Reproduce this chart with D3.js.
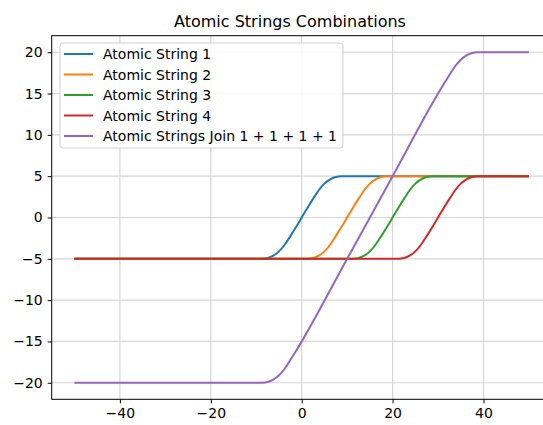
<!DOCTYPE html>
<html>
<head>
<meta charset="utf-8">
<script src="https://cdn.jsdelivr.net/npm/d3@7"></script>
<style>
  body { margin: 0; background: #ffffff; }
  svg { display: block; font-family: "DejaVu Sans", sans-serif; }
</style>
</head>
<body>
<div id="chart"></div>
<script>
// Values
var seriesNames = ["Atomic String 1", "Atomic String 2", "Atomic String 3",
                   "Atomic String 4", "Atomic Strings Join 1 + 1 + 1 + 1"];
var colours = ["#1f77b4", "#ff7f0e", "#2ca02c", "#d62728", "#9467bd"];

var x1 = [-50, -10, -8.75, -7.5, -6.25, -5, -3.75, -2.5, -1.25, 0, 1.25, 2.5, 3.75, 5, 6.25, 7.5, 8.75, 10, 50];
var y1 = [-5, -5, -4.99, -4.9, -4.62, -4.1, -3.3, -2.25, -1.15, 0, 1.15, 2.25, 3.3, 4.1, 4.62, 4.9, 4.99, 5, 5];
var x2 = [-50, 0, 1.25, 2.5, 3.75, 5, 6.25, 7.5, 8.75, 10, 11.25, 12.5, 13.75, 15, 16.25, 17.5, 18.75, 20, 50];
var y2 = [-5, -5, -4.99, -4.9, -4.62, -4.1, -3.3, -2.25, -1.15, 0, 1.15, 2.25, 3.3, 4.1, 4.62, 4.9, 4.99, 5, 5];
var x3 = [-50, 10, 11.25, 12.5, 13.75, 15, 16.25, 17.5, 18.75, 20, 21.25, 22.5, 23.75, 25, 26.25, 27.5, 28.75, 30, 50];
var y3 = [-5, -5, -4.99, -4.9, -4.62, -4.1, -3.3, -2.25, -1.15, 0, 1.15, 2.25, 3.3, 4.1, 4.62, 4.9, 4.99, 5, 5];
var x4 = [-50, 20, 21.25, 22.5, 23.75, 25, 26.25, 27.5, 28.75, 30, 31.25, 32.5, 33.75, 35, 36.25, 37.5, 38.75, 40, 50];
var y4 = [-5, -5, -4.99, -4.9, -4.62, -4.1, -3.3, -2.25, -1.15, 0, 1.15, 2.25, 3.3, 4.1, 4.62, 4.9, 4.99, 5, 5];
var x5 = [-50, -10, -8.75, -7.5, -6.25, -5, -3.75, -2.5, -1.25, 0, 10, 20, 30, 31.25, 32.5, 33.75, 35, 36.25, 37.5, 38.75, 40, 50];
var y5 = [-20, -20, -19.99, -19.9, -19.62, -19.1, -18.3, -17.25, -16.15, -15, -5, 5, 15, 16.15, 17.25, 18.3, 19.1, 19.62, 19.9, 19.99, 20, 20];

var xTicks = [-40, -20, 0, 20, 40];
var yTicks = [-20, -15, -10, -5, 0, 5, 10, 15, 20];

var width = 543, height = 425;

var svg = d3.select("#chart").append("svg")
    .attr("width", width)
    .attr("height", height);

var x = d3.scaleLinear().domain([-55, 55]).range([51.7, 551.7]);
var y = d3.scaleLinear().domain([-22, 22]).range([399.3, 35.7]);

// grid
svg.append("g").selectAll("line").data(xTicks).enter().append("line")
    .attr("x1", function(d) { return x(d); })
    .attr("x2", function(d) { return x(d); })
    .attr("y1", y(-22)).attr("y2", y(22))
    .attr("stroke", "#d6d6d6").attr("stroke-width", 1.2);
svg.append("g").selectAll("line").data(yTicks).enter().append("line")
    .attr("x1", x(-55)).attr("x2", x(55))
    .attr("y1", function(d) { return y(d); })
    .attr("y2", function(d) { return y(d); })
    .attr("stroke", "#d6d6d6").attr("stroke-width", 1.2);

// lines
var series = [[x1, y1], [x2, y2], [x3, y3], [x4, y4], [x5, y5]];
var line = d3.line()
    .x(function(d) { return x(d[0]); })
    .y(function(d) { return y(d[1]); })
    .curve(d3.curveMonotoneX);

series.forEach(function(s, i) {
    var pts = s[0].map(function(v, j) { return [v, s[1][j]]; });
    svg.append("path")
        .datum(pts)
        .attr("d", line)
        .attr("fill", "none")
        .attr("stroke", colours[i])
        .attr("stroke-width", 2);
});

// spines
svg.append("rect")
    .attr("x", x(-55)).attr("y", y(22))
    .attr("width", x(55) - x(-55)).attr("height", y(-22) - y(22))
    .attr("fill", "none").attr("stroke", "#000").attr("stroke-width", 1);

// axes
var fmt = d3.format("d");
var xAxis = svg.append("g")
    .attr("transform", "translate(0," + y(-22) + ")")
    .call(d3.axisBottom(x).tickValues(xTicks).tickFormat(fmt).tickSizeOuter(0).tickSize(4).tickPadding(5));
var yAxis = svg.append("g")
    .attr("transform", "translate(" + x(-55) + ",0)")
    .call(d3.axisLeft(y).tickValues(yTicks).tickFormat(fmt).tickSizeOuter(0).tickSize(4).tickPadding(5));
[xAxis, yAxis].forEach(function(a) {
    a.select(".domain").remove();
    a.selectAll("text").attr("font-size", 14).attr("fill", "#000")
        .attr("font-family", "DejaVu Sans, sans-serif");
    a.selectAll("line").attr("stroke", "#000");
});

// title
svg.append("text")
    .attr("x", 290).attr("y", 27)
    .attr("text-anchor", "middle")
    .attr("font-size", 16)
    .text("Atomic Strings Combinations");

// legend
var legend = svg.append("g");
legend.append("rect")
    .attr("x", 60).attr("y", 43).attr("width", 283).attr("height", 105)
    .attr("rx", 3)
    .attr("fill", "#fff").attr("fill-opacity", 0.85)
    .attr("stroke", "#d0d0d0");
seriesNames.forEach(function(name, i) {
    var ly = 54 + i * 20.5;
    legend.append("line")
        .attr("x1", 64).attr("x2", 93)
        .attr("y1", ly).attr("y2", ly)
        .attr("stroke", colours[i]).attr("stroke-width", 2);
    legend.append("text")
        .attr("x", 103).attr("y", ly + 5)
        .attr("font-size", 14)
        .text(name);
});
</script>
</body>
</html>
